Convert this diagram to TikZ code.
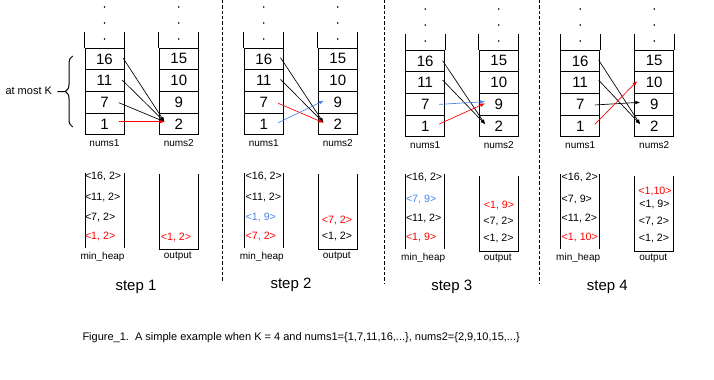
\documentclass[tikz,border=0pt]{standalone}
\usepackage{fontspec}
\setmainfont{Liberation Sans}
\usetikzlibrary{calc,arrows.meta,decorations.pathreplacing}
\definecolor{hred}{RGB}{255,0,0}
\definecolor{hblue}{RGB}{74,134,232}

\begin{document}
\begin{tikzpicture}[x=0.75pt, y=-0.75pt, line width=0.75pt,
    cell/.style = {draw, minimum width=29.25pt, minimum height=16.3pt, inner sep=0pt, font=\fontsize{11.25}{12}\selectfont},
    lbl/.style = {inner sep=0pt, font=\fontsize{7.5}{9}\selectfont},
    ent/.style = {inner sep=0pt, font=\fontsize{8}{9}\selectfont},
    hent/.style = {ent, anchor=west},
    steplbl/.style = {inner sep=0pt, font=\fontsize{11.25}{13}\selectfont},
    arr/.style = {-{Latex[length=3.6pt, width=2.7pt]}, line width=0.5pt},
    sep/.style = {dash pattern=on 2.4pt off 1.6pt, line width=0.7pt}]
    \useasboundingbox (0,0) rectangle (714,379);
    \foreach \s/\xa/\xb/\dy in {1/85/159.3/0, 2/244.3/318.3/0, 3/405.7/479.3/2, 4/560.7/634.7/2} {
        \foreach \k/\u/\v in {1/1/2, 2/7/9, 3/11/10, 4/16/15} {
            \node[cell] (a\s-\k) at (\xa+19.5, 145.875+\dy-\k*21.75) {\u};
            \node[cell] (b\s-\k) at (\xb+19.5, 145.875+\dy-\k*21.75) {\v};
        }
        \draw (a\s-4.north west) -- ++(0,-16) (a\s-4.north east) -- ++(0,-16);
        \draw (b\s-4.north west) -- ++(0,-16) (b\s-4.north east) -- ++(0,-16);
        \foreach \d in {7,23,39} {
            \fill (\xa+19.5, \d+\dy) circle (0.9);
            \fill (\xb+19.5, \d+\dy) circle (0.9);
        }
        \node[lbl] (n1lab\s) at (\xa+19.5, 143+\dy) {nums1};
        \node[lbl] (n2lab\s) at (\xb+19.5, 143+\dy) {nums2};
        \draw (\xa, 173+\dy/2) -- (\xa, 248+\dy/2) (\xa+39, 173+\dy/2) -- (\xa+39, 248+\dy/2);
        \draw (\xb, 174+\dy) -- (\xb, 249.3+\dy) -- (\xb+39, 249.3+\dy) -- (\xb+39, 174+\dy);
        \node[lbl] (heaplab\s) at (\xa+17.5, 257.3+\dy/2) {min\_heap};
        \node[lbl] (outlab\s) at (\xb+18.5, 256+\dy) {output};
    }

    \node[lbl, anchor=west] (atmost) at (5,90.7) {\fontsize{8.25}{10}\selectfont at most K};
    \draw[decorate, decoration={brace, amplitude=5.5pt, aspect=0.5}] (72.7,127) -- (72.7,56);
    \coordinate (ktip) at (65.5,91.5);
    \draw ($(atmost.east)+(5,0.8)$) -- (ktip);

    \draw[sep] (222.7,0) -- (222.7,282);
    \draw[sep] (384.2,0) -- (384.2,283);
    \draw[sep] (539.3,0) -- (539.3,283);

    \draw[arr] ($(a1-4.east)+(-1.3,-0.6)$) -- ($(b1-1.west)+(5.7,-2.4)$);
    \draw[arr] ($(a1-3.east)+(-2.3,-0.6)$) -- ($(b1-1.west)+(5.7,-2.4)$);
    \draw[arr] ($(a1-2.east)+(-5.7,0.3)$) -- ($(b1-1.west)+(5.7,-2.4)$);
    \draw[arr, hred] ($(a1-1.east)+(-5.7,-2.4)$) -- ($(b1-1.west)+(5.7,-2.4)$);

    \draw[arr] ($(a2-4.east)+(-3.3,-1.2)$) -- ($(b2-1.west)+(5.7,-1.4)$);
    \draw[arr] ($(a2-3.east)+(-3.3,-1.3)$) -- ($(b2-1.west)+(5.7,-1.4)$);
    \draw[arr, hred] ($(a2-2.east)+(-5.6,0.9)$) -- ($(b2-1.west)+(5.7,-1.4)$);
    \draw[arr, hblue] ($(a2-1.east)+(-5.6,-1.4)$) -- ($(b2-2.west)+(6,-1.7)$);

    \draw[arr] ($(a3-4.east)+(-2.6,-0.2)$) -- ($(b3-1.west)+(6.4,-1.8)$);
    \draw[arr] ($(a3-3.east)+(-2.6,-2.6)$) -- ($(b3-1.west)+(6.4,-1.8)$);
    \draw[arr, hblue] ($(a3-2.east)+(-6,0)$) -- ($(b3-2.west)+(6.2,-2.7)$);
    \draw[arr, hred] ($(a3-1.east)+(-6,-2.1)$) -- ($(b3-2.west)+(6.2,-1.1)$);

    \draw[arr] ($(a4-4.east)+(-1.6,-0.9)$) -- ($(b4-1.west)+(6,-1.8)$);
    \draw[arr] ($(a4-3.east)+(-1.6,-2.6)$) -- ($(b4-1.west)+(6,-1.8)$);
    \draw[arr] ($(a4-2.east)+(-5.3,0.6)$) -- ($(b4-2.west)+(6,-2.1)$);
    \draw[arr, hred] ($(a4-1.east)+(-5.3,-1.8)$) -- ($(b4-3.west)+(3,-1.6)$);

    \node[hent] (h1d) at (84.5,176.5) {<16, 2>};
    \node[hent] (h1c) at (84.5,197.5) {<11, 2>};
    \node[hent] (h1b) at (84.5,217) {<7, 2>};
    \node[hent, hred] (h1a) at (84.5,236.5) {<1, 2>};
    \node[ent, hred] (o1a) at (176,237.3) {<1, 2>};

    \node[hent] (h2d) at (245.2,176.5) {<16, 2>};
    \node[hent] (h2c) at (245.2,197.5) {<11, 2>};
    \node[hent, hblue] (h2b) at (245.2,217) {<1, 9>};
    \node[hent, hred] (h2a) at (245.2,236.5) {<7, 2>};
    \node[ent, hred] (o2b) at (337,220) {<7, 2>};
    \node[ent] (o2a) at (337,236.7) {<1, 2>};

    \node[hent] (h3d) at (405.5,177.3) {<16, 2>};
    \node[hent, hblue] (h3c) at (405.5,199.3) {<7, 9>};
    \node[hent] (h3b) at (405.5,218.3) {<11, 2>};
    \node[hent, hred] (h3a) at (405.5,237.3) {<1, 9>};
    \node[ent, hred] (o3c) at (499,205) {<1, 9>};
    \node[ent] (o3b) at (498.5,221) {<7, 2>};
    \node[ent] (o3a) at (498.5,238.3) {<1, 2>};

    \node[hent] (h4d) at (561.2,177.3) {<16, 2>};
    \node[hent] (h4c) at (561.2,199.3) {<7, 9>};
    \node[hent] (h4b) at (561.2,218.3) {<11, 2>};
    \node[hent, hred] (h4a) at (561.2,237.3) {<1, 10>};
    \node[ent, hred] (o4d) at (655,191.7) {<1,10>};
    \node[ent] (o4c) at (654.5,204.3) {<1, 9>};
    \node[ent] (o4b) at (654,221) {<7, 2>};
    \node[ent] (o4a) at (654,238.3) {<1, 2>};

    \node[steplbl] (step1) at (136,286.7) {step 1};
    \node[steplbl] (step2) at (291,285) {step 2};
    \node[steplbl] (step3) at (451.7,287.3) {step 3};
    \node[steplbl] (step4) at (607.3,287.3) {step 4};

    \node[inner sep=0pt, anchor=west, font=\fontsize{8.25}{10}\selectfont] (caption) at (82,338) {Figure\_1.\ \ A simple example when K = 4 and nums1=\{1,7,11,16,...\}, nums2=\{2,9,10,15,...\}};
\end{tikzpicture}
\end{document}
